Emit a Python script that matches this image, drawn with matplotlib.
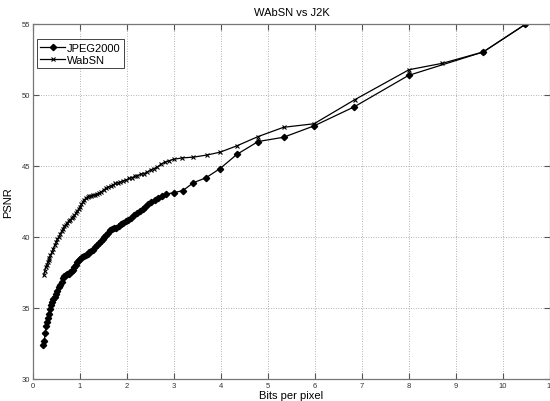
import matplotlib
matplotlib.use("Agg")
import matplotlib.pyplot as plt

plt.rcParams['font.family'] = ['Liberation Sans', 'DejaVu Sans']

# JPEG2000 rate / PSNR
j2k_bpp = [0.22, 0.24, 0.26, 0.28, 0.30, 0.32, 0.34, 0.36, 0.38, 0.40,
           0.43, 0.46, 0.49, 0.52, 0.55, 0.58, 0.61, 0.64, 0.67, 0.70,
           0.73, 0.76, 0.79, 0.82, 0.85, 0.88, 0.91, 0.94, 0.97, 1.00,
           1.04, 1.08, 1.12, 1.16, 1.20, 1.24, 1.28, 1.32, 1.36, 1.40,
           1.44, 1.48, 1.52, 1.56, 1.60, 1.64, 1.68, 1.72, 1.77, 1.82,
           1.87, 1.92, 1.97, 2.03, 2.09, 2.15, 2.21, 2.27, 2.33, 2.39,
           2.45, 2.52, 2.59, 2.66, 2.74, 2.82, 2.99, 3.19, 3.41, 3.68,
           3.98, 4.34, 4.79, 5.33, 5.98, 6.84, 7.99, 9.58, 10.47]
j2k_psnr = [32.4, 32.7, 33.2, 33.7, 34.0, 34.3, 34.6, 34.9, 35.2, 35.4,
            35.6, 35.8, 36.0, 36.2, 36.45, 36.6, 36.85, 37.1, 37.25, 37.3,
            37.35, 37.4, 37.5, 37.6, 37.7, 37.85, 38.05, 38.25, 38.4, 38.45,
            38.55, 38.65, 38.7, 38.8, 38.9, 39.0, 39.1, 39.25, 39.4, 39.55,
            39.7, 39.85, 40.0, 40.15, 40.3, 40.45, 40.55, 40.6, 40.65, 40.75,
            40.9, 41.0, 41.1, 41.2, 41.35, 41.5, 41.65, 41.8, 41.95, 42.1,
            42.3, 42.45, 42.6, 42.75, 42.9, 43.0, 43.1, 43.25, 43.8, 44.15,
            44.8, 45.8, 46.7, 47.0, 47.8, 49.15, 51.35, 53.0, 54.93]

# WabSN rate / PSNR
wab_bpp = [0.23, 0.25, 0.27, 0.29, 0.31, 0.33, 0.35, 0.37, 0.40, 0.43,
           0.46, 0.49, 0.52, 0.55, 0.58, 0.61, 0.64, 0.67, 0.70, 0.73,
           0.76, 0.79, 0.82, 0.85, 0.88, 0.91, 0.94, 0.97, 1.00, 1.03,
           1.06, 1.09, 1.12, 1.16, 1.20, 1.24, 1.28, 1.32, 1.36, 1.40,
           1.45, 1.50, 1.55, 1.60, 1.65, 1.70, 1.75, 1.80, 1.86, 1.92,
           1.98, 2.04, 2.10, 2.16, 2.22, 2.29, 2.36, 2.43, 2.50, 2.57,
           2.64, 2.72, 2.81, 2.90, 2.99, 3.18, 3.41, 3.70, 3.98, 4.34,
           4.79, 5.33, 5.98, 6.85, 8.00, 8.71, 9.58, 10.47]
wab_psnr = [37.3, 37.6, 37.9, 38.0, 38.2, 38.35, 38.5, 38.7, 38.9, 39.15,
            39.4, 39.6, 39.85, 40.0, 40.2, 40.4, 40.55, 40.75, 40.85, 41.0,
            41.1, 41.2, 41.3, 41.4, 41.5, 41.65, 41.8, 41.95, 42.1, 42.3,
            42.45, 42.6, 42.7, 42.8, 42.85, 42.9, 42.92, 42.95, 43.0, 43.05,
            43.15, 43.3, 43.4, 43.5, 43.55, 43.65, 43.75, 43.8, 43.85, 43.95,
            44.0, 44.1, 44.15, 44.25, 44.3, 44.4, 44.45, 44.55, 44.7, 44.8,
            44.9, 45.1, 45.25, 45.35, 45.45, 45.55, 45.6, 45.75, 45.95, 46.4,
            47.05, 47.7, 47.95, 49.65, 51.75, 52.2, 53.0, 54.93]

x_ticks = list(range(0, 12))
y_ticks = [30, 35, 40, 45, 50, 55]

fig = plt.figure(figsize=(5.5, 4.02), dpi=100)
ax = fig.add_axes([33 / 550, 22 / 402, 517 / 550, 355.5 / 402])

ax.plot(j2k_bpp, j2k_psnr, color='black', linewidth=0.9, marker='D',
        markersize=3.2, label='JPEG2000')
ax.plot(wab_bpp, wab_psnr, color='black', linewidth=0.9, marker='x',
        markersize=3.3, markeredgewidth=0.8, label='WabSN')

ax.set_xlim(0, 11)
ax.set_ylim(30, 55)
ax.set_xticks(x_ticks)
ax.set_yticks(y_ticks)
ax.grid(True, linestyle=(0, (1, 2)), color='#999999', linewidth=0.6)
ax.tick_params(direction='in', top=True, right=True, length=4,
               labelsize=5.5, labelcolor='#333333', color='#555555', pad=2)
for s in ax.spines.values():
    s.set_color('#777777')
    s.set_linewidth(0.9)

ax.set_title('WAbSN vs J2K', fontsize=8, pad=6)
ax.set_xlabel('Bits per pixel', fontsize=8, labelpad=1)
ax.set_ylabel('PSNR', fontsize=8, labelpad=6)

leg = ax.legend(loc='upper left', bbox_to_anchor=(0.008, 0.955), fontsize=8,
                fancybox=False, edgecolor='#444444', framealpha=1,
                handlelength=2.2, handletextpad=0.2, borderpad=0.3,
                labelspacing=0.2, borderaxespad=0)
leg.get_frame().set_linewidth(0.7)

fig.savefig('out.png', dpi=100)
